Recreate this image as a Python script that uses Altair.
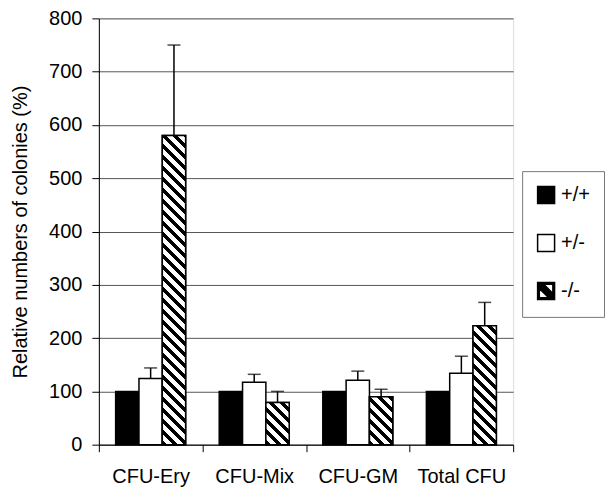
import math
import altair as alt
import pandas as pd

categories = ["CFU-Ery", "CFU-Mix", "CFU-GM", "Total CFU"]
genotypes = ["+/+", "+/-", "-/-"]
wt_vals = [100, 100, 100, 100]
het_vals = [124, 117, 121, 134]
het_sd = [20, 15, 17, 32]
ko_vals = [580, 79, 90, 223]
ko_sd = [170, 21, 14, 44]
y_ticks = [0, 100, 200, 300, 400, 500, 600, 700, 800]

FONT = "Liberation Sans"
W, H = 415, 427
YMAX = 800

rows = []
for i, c in enumerate(categories):
    rows.append({"category": c, "genotype": "+/+", "value": wt_vals[i], "upper": None})
    rows.append({"category": c, "genotype": "+/-", "value": het_vals[i], "upper": het_vals[i] + het_sd[i]})
    rows.append({"category": c, "genotype": "-/-", "value": ko_vals[i], "upper": ko_vals[i] + ko_sd[i]})
df = pd.DataFrame(rows)
df_err = df.dropna(subset=["upper"])

pad_outer = 0.72
band = W / len(categories)
bw = band / (len(genotypes) + 2 * pad_outer)


def hatch(h, w=bw, period=11.0, black=0.45):
    L = w + h
    k = L / (w * w + h * h)
    f = period / L
    stops = []
    n = int(math.ceil(L / period))
    for j in range(n):
        a, b, c = j * f, (j + black) * f, (j + 1) * f
        for off, col in [(a, "black"), (b, "black"), (b, "white"), (c, "white")]:
            stops.append({"offset": min(off, 1.0), "color": col})
    return {"gradient": "linear", "x1": 0, "y1": 1, "x2": k * w, "y2": 1 - k * h, "stops": stops}


X = alt.X("category:N", sort=categories,
          scale=alt.Scale(domain=categories, paddingInner=0, paddingOuter=0),
          axis=alt.Axis(title=None, labelAngle=0, tickBand="extent", ticks=True, tickSize=7,
                        tickColor="black", domainColor="black", labelColor="black",
                        labelFontSize=20, labelFont=FONT, labelPadding=15, grid=False))
XO = alt.XOffset("genotype:N", sort=genotypes,
                 scale=alt.Scale(domain=genotypes, paddingInner=0, paddingOuter=pad_outer))
Y = alt.Y("value:Q", scale=alt.Scale(domain=[0, YMAX], nice=False),
          axis=alt.Axis(values=y_ticks, title="Relative numbers of colonies (%)",
                        titleFontSize=20, titleFont=FONT, titleFontWeight="normal",
                        titleColor="black", titlePadding=18,
                        labelFontSize=20, labelFont=FONT, labelColor="black", labelPadding=10,
                        tickSize=7, tickColor="black", domainColor="black",
                        grid=True, gridColor="#555555", gridWidth=1))

legend = alt.Legend(title=None, orient="none", legendX=424, legendY=153, padding=14,
                    rowPadding=24, symbolSize=289, labelFontSize=20, labelFont=FONT,
                    labelColor="black", labelOffset=5, strokeColor="#777777",
                    fillColor="white", symbolStrokeColor="black", symbolStrokeWidth=1.5,
                    symbolOpacity=1)

fill_enc = alt.Fill("genotype:N", sort=genotypes,
                    scale=alt.Scale(domain=genotypes, range=["black", "white", "black"]),
                    legend=legend)
stroke_enc = alt.Stroke("genotype:N", sort=genotypes,
                        scale=alt.Scale(domain=genotypes, range=["black", "black", "black"]),
                        legend=legend)
hatch_path = ("M-1,-1H1V1H-1Z M-0.3,-0.8L0.8,0.3L0.8,-0.8Z M-0.8,-0.3L-0.8,0.8L0.3,0.8Z")
shape_enc = alt.Shape("genotype:N", sort=genotypes,
                      scale=alt.Scale(domain=genotypes, range=["square", "square", hatch_path]),
                      legend=legend)

bars = alt.Chart(df).mark_bar(stroke="black", strokeWidth=1.5).encode(
    x=X, xOffset=XO, y=Y, fill=fill_enc)

layers = [bars]
for i, c in enumerate(categories):
    h = ko_vals[i] * H / YMAX
    layers.append(
        alt.Chart(df).transform_filter(
            (alt.datum.category == c) & (alt.datum.genotype == "-/-")
        ).mark_bar(fill=hatch(h), stroke="black", strokeWidth=1.5).encode(x=X, xOffset=XO, y=Y)
    )

rules = alt.Chart(df_err).mark_rule(color="black", strokeWidth=1.5).encode(
    x=X, xOffset=XO, y=Y, y2=alt.Y2("upper:Q"))
caps = alt.Chart(df_err).mark_tick(color="black", size=13, thickness=1.5).encode(
    x=X, xOffset=XO, y=alt.Y("upper:Q"))
pts = alt.Chart(df).mark_point(filled=True, opacity=0, strokeWidth=1.5).encode(
    x=X, xOffset=XO, y=Y, fill=fill_enc, stroke=stroke_enc, shape=shape_enc)

layers += [rules, caps, pts]

chart = alt.layer(*layers).properties(
    width=W, height=H, padding={"left": 2, "top": 0, "right": 0, "bottom": 0}
).configure_view(stroke="black", strokeWidth=1).configure(background="white")

chart.save("out.html", embed_options={"renderer": "svg", "actions": False})
